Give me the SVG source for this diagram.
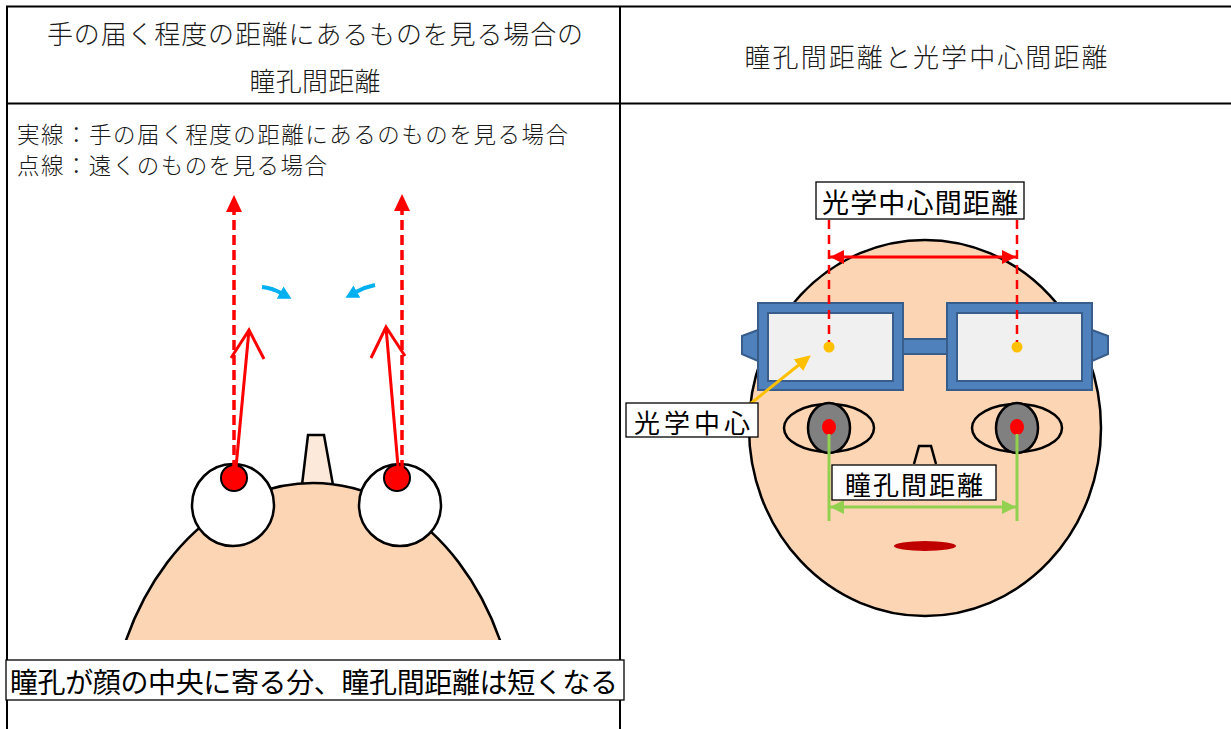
<svg xmlns="http://www.w3.org/2000/svg" width="1231" height="729" viewBox="0 0 1231 729">
  <style>
    .grid { stroke: #000; stroke-width: 2; fill: none; }
    .hdr { font-family: "Noto Sans CJK JP", "Noto Sans", sans-serif; font-weight: 300; fill: #1a1a1a; dominant-baseline: central; }
    .lbl { font-family: "Noto Sans CJK JP", "Noto Sans", sans-serif; fill: #000; dominant-baseline: central; }
    .box { fill: #fff; stroke: #000; stroke-width: 1.3; }
    .skin { fill: #fcd5b4; stroke: #000; stroke-width: 2.5; }
    .frame { fill: #4f81bd; stroke: #385d8a; stroke-width: 2; }
    .lens { fill: #f0f0f0; stroke: #385d8a; stroke-width: 2; }
    .red-dash { stroke: #ff0000; stroke-width: 3.5; stroke-dasharray: 10 5; fill: none; }
    .red-dash-thin { stroke: #ff0000; stroke-width: 2.5; stroke-dasharray: 9 6; fill: none; }
    .red-solid { stroke: #ff0000; stroke-width: 3; fill: none; stroke-linejoin: miter; }
    .blue { stroke: #00b0f0; stroke-width: 4; fill: none; }
  </style>
  <defs>
    <marker id="headRed" markerUnits="userSpaceOnUse" viewBox="0 0 17 16" refX="0" refY="8" markerWidth="17" markerHeight="16" orient="auto">
      <path d="M0,0 L17,8 L0,16 z" fill="#ff0000"/>
    </marker>
    <marker id="headBlue" markerUnits="userSpaceOnUse" viewBox="0 0 13 14" refX="1" refY="7" markerWidth="13" markerHeight="14" orient="auto">
      <path d="M0,0 L13,7 L0,14 z" fill="#00b0f0"/>
    </marker>
    <marker id="dimRed" markerUnits="userSpaceOnUse" viewBox="0 0 14 14" refX="14" refY="7" markerWidth="14" markerHeight="14" orient="auto-start-reverse">
      <path d="M0,0 L14,7 L0,14 z" fill="#ff0000"/>
    </marker>
    <marker id="dimGreen" markerUnits="userSpaceOnUse" viewBox="0 0 14 14" refX="14" refY="7" markerWidth="14" markerHeight="14" orient="auto-start-reverse">
      <path d="M0,0 L14,7 L0,14 z" fill="#92d050"/>
    </marker>
    <marker id="headOrange" markerUnits="userSpaceOnUse" viewBox="0 0 16 15" refX="2" refY="7.5" markerWidth="16" markerHeight="15" orient="auto">
      <path d="M0,0 L16,7.5 L0,15 z" fill="#ffc000"/>
    </marker>
    <clipPath id="headClip">
      <rect x="0" y="0" width="620" height="640"/>
    </clipPath>
  </defs>

  <!-- table rules -->
  <g id="table">
    <line class="grid" x1="6" y1="6.5" x2="1231" y2="6.5"/>
    <line class="grid" x1="6" y1="103.5" x2="1231" y2="103.5"/>
    <line class="grid" x1="7" y1="6" x2="7" y2="729"/>
    <line class="grid" x1="620" y1="6" x2="620" y2="729"/>
  </g>

  <!-- column headings -->
  <g id="heading-left">
    <text class="hdr" x="315" y="32" font-size="26" text-anchor="middle" textLength="536" lengthAdjust="spacing">手の届く程度の距離にあるものを見る場合の</text>
    <text class="hdr" x="315" y="79" font-size="26" text-anchor="middle" textLength="131" lengthAdjust="spacing">瞳孔間距離</text>
  </g>
  <g id="heading-right">
    <text class="hdr" x="926" y="55" font-size="26" text-anchor="middle" textLength="363" lengthAdjust="spacing">瞳孔間距離と光学中心間距離</text>
  </g>

  <!-- legend -->
  <g id="legend">
    <text class="hdr" x="17" y="133" font-size="22.5" textLength="551" lengthAdjust="spacing">実線：手の届く程度の距離にあるのものを見る場合</text>
    <text class="hdr" x="17" y="164" font-size="22.5" textLength="310" lengthAdjust="spacing">点線：遠くのものを見る場合</text>
  </g>

  <!-- head seen from above -->
  <g id="top-head">
    <path d="M302,485 L308,435 L324,435 L333,485 z" fill="#fde9d9" stroke="#000" stroke-width="2.5"/>
    <ellipse class="skin" cx="313" cy="754" rx="206" ry="271" clip-path="url(#headClip)"/>
  </g>
  <g id="eye-left-top">
    <circle cx="233" cy="505" r="41" fill="#fff" stroke="#000" stroke-width="2.5"/>
    <circle cx="234" cy="478" r="13" fill="#ff0000" stroke="#000" stroke-width="2"/>
  </g>
  <g id="eye-right-top">
    <circle cx="400" cy="505" r="41" fill="#fff" stroke="#000" stroke-width="2.5"/>
    <circle cx="397" cy="478" r="13" fill="#ff0000" stroke="#000" stroke-width="2"/>
  </g>

  <!-- caption -->
  <g id="caption">
    <rect class="box" x="6" y="660" width="618" height="40"/>
    <text class="lbl" x="10" y="681" font-size="28" textLength="608" lengthAdjust="spacing">瞳孔が顔の中央に寄る分、瞳孔間距離は短くなる</text>
  </g>

  <!-- front face -->
  <g id="face">
    <ellipse class="skin" cx="925" cy="428" rx="176" ry="188"/>
    <path d="M914,464 L919,446 L931,446 L936,464" fill="none" stroke="#000" stroke-width="2.5"/>
    <ellipse cx="925" cy="546" rx="31" ry="5" fill="#c00000"/>
  </g>
  <g id="eye-left">
    <ellipse cx="829" cy="428" rx="45" ry="24" fill="none" stroke="#000" stroke-width="2.5"/>
    <ellipse cx="829" cy="428" rx="21" ry="25" fill="#808080" stroke="#000" stroke-width="2.5"/>
    <ellipse cx="829" cy="427" rx="7" ry="8" fill="#ff0000"/>
  </g>
  <g id="eye-right">
    <ellipse cx="1017" cy="428" rx="45" ry="24" fill="none" stroke="#000" stroke-width="2.5"/>
    <ellipse cx="1017" cy="428" rx="21" ry="25" fill="#808080" stroke="#000" stroke-width="2.5"/>
    <ellipse cx="1017" cy="427" rx="7" ry="8" fill="#ff0000"/>
  </g>
  <g id="glasses">
    <path class="frame" d="M758,330 L742,336 L742,354 L758,361 z"/>
    <path class="frame" d="M1092,330 L1108,336 L1108,354 L1092,361 z"/>
    <rect class="frame" x="903" y="339" width="44" height="15"/>
    <rect class="frame" x="758" y="303" width="145" height="87"/>
    <rect class="lens" x="768" y="313" width="125" height="68"/>
    <rect class="frame" x="947" y="303" width="145" height="87"/>
    <rect class="lens" x="957" y="313" width="125" height="68"/>
    <circle cx="829" cy="347" r="5.5" fill="#ffc000"/>
    <circle cx="1017" cy="347" r="5.5" fill="#ffc000"/>
  </g>

  <!-- connectors -->
  <g id="connectors">
    <line class="red-dash" x1="234" y1="470" x2="234" y2="212" marker-end="url(#headRed)"/>
    <line class="red-dash" x1="402" y1="470" x2="402" y2="211" marker-end="url(#headRed)"/>
    <path class="red-solid" d="M235,478 L249,330 M231,358 L249,330 L264,359"/>
    <path class="red-solid" d="M399,478 L386,327 M371,358 L386,327 L405,356"/>
    <path class="blue" d="M262,287 Q272,288 281,293" marker-end="url(#headBlue)"/>
    <path class="blue" d="M375,285 Q365,287 356,292" marker-end="url(#headBlue)"/>

    <line class="red-dash-thin" x1="829" y1="220" x2="829" y2="342"/>
    <line class="red-dash-thin" x1="1017" y1="220" x2="1017" y2="342"/>
    <line x1="830" y1="257" x2="1016" y2="257" stroke="#ff0000" stroke-width="3" marker-start="url(#dimRed)" marker-end="url(#dimRed)"/>

    <line x1="829" y1="434" x2="829" y2="521" stroke="#92d050" stroke-width="3"/>
    <line x1="1017" y1="434" x2="1017" y2="521" stroke="#92d050" stroke-width="3"/>
    <line x1="830" y1="507" x2="1016" y2="507" stroke="#92d050" stroke-width="3" marker-start="url(#dimGreen)" marker-end="url(#dimGreen)"/>

    <line x1="750" y1="404" x2="800" y2="364" stroke="#ffc000" stroke-width="3" marker-end="url(#headOrange)"/>
  </g>

  <!-- labels -->
  <g id="label-optical-distance">
    <rect class="box" x="816" y="182" width="208" height="37"/>
    <text class="lbl" x="920" y="201" font-size="27" text-anchor="middle" textLength="196" lengthAdjust="spacing">光学中心間距離</text>
  </g>
  <g id="label-optical-center">
    <rect class="box" x="626" y="403" width="132" height="34"/>
    <text class="lbl" x="692" y="421" font-size="26" text-anchor="middle" textLength="116" lengthAdjust="spacing">光学中心</text>
  </g>
  <g id="label-pupil-distance">
    <rect class="box" x="832" y="465" width="164" height="35"/>
    <text class="lbl" x="914" y="483" font-size="26" text-anchor="middle" textLength="138" lengthAdjust="spacing">瞳孔間距離</text>
  </g>
</svg>
